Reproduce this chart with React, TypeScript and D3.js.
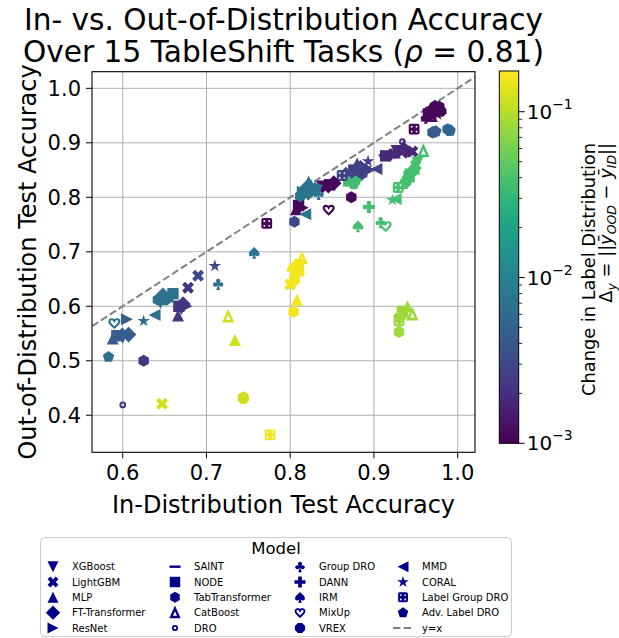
import React from "react";
import * as d3 from "d3";

// ---------- DATA ----------
const MODELS = [
  "XGBoost", "LightGBM", "MLP", "FT-Transformer", "ResNet",
  "SAINT", "NODE", "TabTransformer", "CatBoost", "DRO",
  "Group DRO", "DANN", "IRM", "MixUp", "VREX",
  "MMD", "CORAL", "Label Group DRO", "Adv. Label DRO",
];
const MARKER_TYPES = [
  "v", "X", "^", "D", ">",
  "_", "s", "h", "catboost", "ring",
  "club", "P", "spade", "heart", "8",
  "<", "*", "lgdro", "p",
];

// [model, in-distribution acc, out-of-distribution acc]
type Pt = [string, number, number];

const task01: Pt[] = [
  ["Group DRO", 0.962, 0.946], ["NODE", 0.965, 0.953], ["MLP", 0.963, 0.950],
  ["XGBoost", 0.968, 0.955], ["CatBoost", 0.969, 0.949], ["FT-Transformer", 0.970, 0.961],
  ["DANN", 0.972, 0.956], ["LightGBM", 0.974, 0.958], ["CORAL", 0.976, 0.952],
  ["ResNet", 0.975, 0.964], ["TabTransformer", 0.978, 0.966], ["VREX", 0.980, 0.958],
  ["MMD", 0.966, 0.958], ["IRM", 0.970, 0.964], ["Adv. Label DRO", 0.973, 0.968],
  ["Label Group DRO", 0.948, 0.925],
];
const task02: Pt[] = [
  ["VREX", 0.972, 0.920], ["TabTransformer", 0.970, 0.919], ["Adv. Label DRO", 0.974, 0.921],
];
const task03: Pt[] = [
  ["VREX", 0.990, 0.923], ["TabTransformer", 0.988, 0.925], ["Adv. Label DRO", 0.991, 0.922],
];
const task04: Pt[] = [
  ["SAINT", 0.913, 0.877], ["NODE", 0.914, 0.876], ["Group DRO", 0.920, 0.880],
  ["MLP", 0.925, 0.882], ["XGBoost", 0.927, 0.885], ["ResNet", 0.931, 0.881],
  ["DRO", 0.934, 0.902], ["CatBoost", 0.935, 0.891], ["FT-Transformer", 0.938, 0.885],
  ["TabTransformer", 0.941, 0.884], ["LightGBM", 0.946, 0.884],
];
const task05: Pt[] = [
  ["XGBoost", 0.952, 0.864], ["LightGBM", 0.950, 0.859], ["MLP", 0.948, 0.853],
  ["FT-Transformer", 0.946, 0.848], ["ResNet", 0.944, 0.843], ["NODE", 0.942, 0.838],
  ["TabTransformer", 0.940, 0.833], ["VREX", 0.938, 0.828], ["Adv. Label DRO", 0.936, 0.824],
  ["CatBoost", 0.959, 0.885], ["Label Group DRO", 0.929, 0.818], ["CORAL", 0.922, 0.795],
  ["MMD", 0.926, 0.797], ["DANN", 0.894, 0.782], ["IRM", 0.881, 0.747],
  ["Group DRO", 0.908, 0.754], ["MixUp", 0.914, 0.747],
];
const task06: Pt[] = [
  ["VREX", 0.877, 0.829], ["TabTransformer", 0.872, 0.836], ["Group DRO", 0.881, 0.834],
  ["Adv. Label DRO", 0.876, 0.824], ["NODE", 0.870, 0.830],
];
const task07: Pt[] = [
  ["Label Group DRO", 0.862, 0.840], ["LightGBM", 0.870, 0.845], ["NODE", 0.876, 0.850],
  ["DANN", 0.879, 0.853], ["MLP", 0.880, 0.862], ["FT-Transformer", 0.884, 0.854],
  ["TabTransformer", 0.886, 0.843], ["VREX", 0.888, 0.852], ["XGBoost", 0.890, 0.846],
  ["ResNet", 0.895, 0.850], ["CORAL", 0.893, 0.866], ["MMD", 0.903, 0.852],
];
const task08: Pt[] = [
  ["XGBoost", 0.838, 0.820], ["LightGBM", 0.842, 0.818], ["NODE", 0.847, 0.823],
  ["FT-Transformer", 0.852, 0.826], ["TabTransformer", 0.873, 0.800], ["MixUp", 0.846, 0.777],
  ["MLP", 0.807, 0.778], ["NODE", 0.810, 0.785], ["ResNet", 0.815, 0.781],
  ["Label Group DRO", 0.772, 0.752],
];
const task09: Pt[] = [
  ["TabTransformer", 0.812, 0.802], ["LightGBM", 0.818, 0.805], ["ResNet", 0.815, 0.810],
  ["FT-Transformer", 0.820, 0.818], ["VREX", 0.823, 0.810], ["MLP", 0.825, 0.822],
  ["CatBoost", 0.822, 0.826], ["NODE", 0.828, 0.815], ["CORAL", 0.830, 0.820],
  ["XGBoost", 0.832, 0.812], ["Group DRO", 0.834, 0.806],
  ["MMD", 0.818, 0.769], ["IRM", 0.757, 0.698],
];
const task10: Pt[] = [
  ["TabTransformer", 0.805, 0.755], ["CORAL", 0.710, 0.674], ["LightGBM", 0.690, 0.656],
];
const task11: Pt[] = [
  ["LightGBM", 0.678, 0.634], ["NODE", 0.667, 0.600], ["FT-Transformer", 0.672, 0.604],
  ["XGBoost", 0.670, 0.595], ["ResNet", 0.676, 0.600], ["MLP", 0.666, 0.583],
  ["TabTransformer", 0.625, 0.500], ["DRO", 0.600, 0.419],
];
const task12: Pt[] = [
  ["XGBoost", 0.645, 0.606], ["TabTransformer", 0.642, 0.612], ["FT-Transformer", 0.648, 0.620],
  ["VREX", 0.651, 0.612], ["MLP", 0.655, 0.618], ["NODE", 0.660, 0.623],
  ["CORAL", 0.625, 0.573], ["MMD", 0.638, 0.584], ["MixUp", 0.590, 0.569],
  ["Group DRO", 0.714, 0.641], ["Adv. Label DRO", 0.583, 0.507],
];
const task13: Pt[] = [
  ["MLP", 0.588, 0.541], ["NODE", 0.593, 0.546], ["XGBoost", 0.600, 0.542],
  ["LightGBM", 0.603, 0.550], ["FT-Transformer", 0.607, 0.548], ["ResNet", 0.605, 0.576],
];
const task14: Pt[] = [
  ["LightGBM", 0.800, 0.640], ["TabTransformer", 0.804, 0.590], ["Group DRO", 0.802, 0.668],
  ["VREX", 0.805, 0.648], ["FT-Transformer", 0.806, 0.672], ["ResNet", 0.807, 0.660],
  ["MLP", 0.808, 0.612], ["NODE", 0.810, 0.665], ["XGBoost", 0.812, 0.676],
  ["CatBoost", 0.814, 0.688], ["Label Group DRO", 0.776, 0.364],
];
const task15: Pt[] = [
  ["TabTransformer", 0.930, 0.553], ["Label Group DRO", 0.930, 0.573], ["FT-Transformer", 0.932, 0.582],
  ["NODE", 0.934, 0.590], ["XGBoost", 0.936, 0.588], ["ResNet", 0.938, 0.592],
  ["MLP", 0.940, 0.600], ["CatBoost", 0.946, 0.585],
];
const task16: Pt[] = [
  ["LightGBM", 0.647, 0.421], ["CatBoost", 0.726, 0.581], ["MLP", 0.734, 0.538],
  ["TabTransformer", 0.744, 0.433], ["VREX", 0.744, 0.431],
];

const TASK_POINTS = [task01, task02, task03, task04, task05, task06, task07, task08,
  task09, task10, task11, task12, task13, task14, task15, task16];
const TASK_DELTAS = [0.0011, 0.0043, 0.0055, 0.0018, 0.038, 0.036, 0.0027, 0.0011,
  0.0072, 0.003, 0.0022, 0.0068, 0.0045, 0.16, 0.083, 0.12];

const X_TICKS = [0.6, 0.7, 0.8, 0.9, 1.0];
const Y_TICKS = [0.4, 0.5, 0.6, 0.7, 0.8, 0.9, 1.0];
const CB_MAJOR = [1e-3, 1e-2, 1e-1];
const CB_EXP = ["−3", "−2", "−1"];

// ---------- LAYOUT ----------
const FONT = "DejaVu Sans, Verdana, sans-serif";
const PL = 92, PR = 475, PT = 71.7, PB = 452.3;
const CBX0 = 499.3, CBX1 = 518.7, CBT = 71, CBB = 443.3;

const xS = d3.scaleLinear().domain([0.5633, 1.0207]).range([PL, PR]);
const yS = d3.scaleLinear().domain([0.332, 1.0305]).range([PB, PT]);
const cS = d3.scaleLog().domain([1e-3, 0.176]).range([CBB, CBT]);
const colorOf = d3.scaleSequentialLog(d3.interpolateViridis).domain([1e-3, 0.176]);

function poly(n: number, r: number, startDeg: number) {
  const pts = d3.range(n).map((i) => {
    const a = ((startDeg + (i * 360) / n) * Math.PI) / 180;
    return [r * Math.cos(a), r * Math.sin(a)];
  });
  return "M" + pts.map((p) => p[0].toFixed(2) + "," + p[1].toFixed(2)).join("L") + "Z";
}
function starPath(r: number) {
  const pts = d3.range(10).map((i) => {
    const rr = i % 2 === 0 ? r : r * 0.382;
    const a = ((-90 + i * 36) * Math.PI) / 180;
    return [rr * Math.cos(a), rr * Math.sin(a)];
  });
  return "M" + pts.map((p) => p[0].toFixed(2) + "," + p[1].toFixed(2)).join("L") + "Z";
}
function plusPath(r: number, rotDeg: number) {
  const base = [[-1, -3], [1, -3], [1, -1], [3, -1], [3, 1], [1, 1], [1, 3], [-1, 3], [-1, 1], [-3, 1], [-3, -1], [-1, -1]];
  const a = (rotDeg * Math.PI) / 180;
  const pts = base.map(([x, y]) => {
    const sx = (x * r) / 3, sy = (y * r) / 3;
    return [sx * Math.cos(a) - sy * Math.sin(a), sx * Math.sin(a) + sy * Math.cos(a)];
  });
  return "M" + pts.map((p) => p[0].toFixed(2) + "," + p[1].toFixed(2)).join("L") + "Z";
}

function Marker({ type, x, y, r, color }: { type: string; x: number; y: number; r: number; color: string }) {
  const t = `translate(${x},${y})`;
  switch (type) {
    case "v": return <path transform={t} d={`M${-r},${-r}L${r},${-r}L0,${r}Z`} fill={color} />;
    case "^": return <path transform={t} d={`M0,${-r}L${r},${r}L${-r},${r}Z`} fill={color} />;
    case ">": return <path transform={t} d={`M${-r},${-r}L${r},0L${-r},${r}Z`} fill={color} />;
    case "<": return <path transform={t} d={`M${r},${-r}L${-r},0L${r},${r}Z`} fill={color} />;
    case "D": { const q = r * 1.3; return <path transform={t} d={`M0,${-q}L${q},0L0,${q}L${-q},0Z`} fill={color} />; }
    case "s": return <rect transform={t} x={-r * 0.95} y={-r * 0.95} width={r * 1.9} height={r * 1.9} fill={color} />;
    case "X": return <path transform={t} d={plusPath(r * 1.05, 45)} fill={color} />;
    case "P": return <path transform={t} d={plusPath(r, 0)} fill={color} />;
    case "h": return <path transform={t} d={poly(6, r, -90)} fill={color} />;
    case "8": return <path transform={t} d={poly(8, r, 22.5)} fill={color} />;
    case "p": return <path transform={t} d={poly(5, r, -90)} fill={color} />;
    case "*": return <path transform={t} d={starPath(r * 1.1)} fill={color} />;
    case "_": return <rect transform={t} x={-r} y={-r * 0.22} width={2 * r} height={r * 0.44} fill={color} />;
    case "ring": return <circle transform={t} r={r * 0.4} fill="none" stroke={color} strokeWidth={r * 0.32} />;
    case "catboost": {
      const q = r * 0.78;
      return <path transform={t} d={`M0,${-q}L${q * 0.9},${q}L${-q * 0.9},${q}Z`} fill="none" stroke={color} strokeWidth={r * 0.42} strokeLinejoin="miter" />;
    }
    case "heart": {
      const q = r * 0.82;
      const d = `M0,${0.9 * q}C${-0.45 * q},${0.5 * q} ${-q},${0.1 * q} ${-q},${-0.35 * q}C${-q},${-0.85 * q} ${-0.3 * q},${-q} 0,${-0.45 * q}C${0.3 * q},${-q} ${q},${-0.85 * q} ${q},${-0.35 * q}C${q},${0.1 * q} ${0.45 * q},${0.5 * q} 0,${0.9 * q}Z`;
      return <path transform={t} d={d} fill="none" stroke={color} strokeWidth={r * 0.36} />;
    }
    case "spade": {
      const q = r;
      const d = `M0,${-q}C${0.3 * q},${-0.55 * q} ${0.9 * q},${-0.25 * q} ${0.9 * q},${0.22 * q}C${0.9 * q},${0.6 * q} ${0.4 * q},${0.68 * q} ${0.12 * q},${0.4 * q}L${0.32 * q},${q}L${-0.32 * q},${q}L${-0.12 * q},${0.4 * q}C${-0.4 * q},${0.68 * q} ${-0.9 * q},${0.6 * q} ${-0.9 * q},${0.22 * q}C${-0.9 * q},${-0.25 * q} ${-0.3 * q},${-0.55 * q} 0,${-q}Z`;
      return <path transform={t} d={d} fill={color} />;
    }
    case "club": {
      const c = r * 0.38;
      return (
        <g transform={t} fill={color}>
          <circle cx={0} cy={-r * 0.5} r={c} />
          <circle cx={-r * 0.48} cy={r * 0.1} r={c} />
          <circle cx={r * 0.48} cy={r * 0.1} r={c} />
          <circle cx={0} cy={0} r={c * 0.7} />
          <path d={`M0,0L${-r * 0.32},${r}L${r * 0.32},${r}Z`} />
        </g>
      );
    }
    case "lgdro": {
      const s = r * 0.9;
      const o = r * 0.4;
      return (
        <g transform={t}>
          <rect x={-s} y={-s} width={2 * s} height={2 * s} rx={r * 0.3} fill={color} />
          {[[-o, -o], [o, -o], [-o, o], [o, o]].map(([dx, dy], i) => (
            <circle key={i} cx={dx} cy={dy} r={r * 0.16} fill="white" />
          ))}
        </g>
      );
    }
    default: return null;
  }
}

const markerOf = (model: string) => MARKER_TYPES[MODELS.indexOf(model)];

export default function App() {
  const gradStops = d3.range(0, 1.0001, 0.05);
  const cbMinor: number[] = [];
  [1e-3, 1e-2, 1e-1].forEach((dec) => {
    for (let k = 2; k <= 9; k++) {
      const v = dec * k;
      if (v < 0.176) cbMinor.push(v);
    }
  });

  const legendCols = [53, 175, 300, 403];
  const legendRows = [566.7, 582, 597.3, 612.7, 628];

  return (
    <svg width={619} height={638} style={{ position: "absolute", left: 0, top: 0, background: "white" }}
      fontFamily={FONT}>
      <defs>
        <clipPath id="plotclip">
          <rect x={PL} y={PT} width={PR - PL} height={PB - PT} />
        </clipPath>
        <linearGradient id="viridisGrad" x1="0" y1="1" x2="0" y2="0">
          {gradStops.map((s, i) => (
            <stop key={i} offset={s} stopColor={d3.interpolateViridis(s)} />
          ))}
        </linearGradient>
      </defs>
      <rect x={0} y={0} width={619} height={638} fill="white" />

      {/* Title */}
      <text x={283.5} y={30} textAnchor="middle" fontSize={29.6} fill="black">In- vs. Out-of-Distribution Accuracy</text>
      <text x={283.5} y={62} textAnchor="middle" fontSize={29.6} fill="black">
        Over 15 TableShift Tasks (<tspan fontStyle="italic">ρ</tspan> = 0.81)
      </text>

      {/* Grid */}
      <g stroke="#b0b0b0" strokeWidth={1}>
        {X_TICKS.map((v) => <line key={"gx" + v} x1={xS(v)} x2={xS(v)} y1={PT} y2={PB} />)}
        {Y_TICKS.map((v) => <line key={"gy" + v} x1={PL} x2={PR} y1={yS(v)} y2={yS(v)} />)}
      </g>

      {/* y = x and points */}
      <g clipPath="url(#plotclip)">
        <line x1={xS(0.5633)} y1={yS(0.5633)} x2={xS(1.0207)} y2={yS(1.0207)}
          stroke="#808080" strokeWidth={2} strokeDasharray="7.4 3.2" />
        {TASK_POINTS.map((pts, ti) =>
          pts.map(([m, xi, yo], pi) => (
            <Marker key={ti + "-" + pi} type={markerOf(m)} x={xS(xi)} y={yS(yo)} r={6}
              color={colorOf(TASK_DELTAS[ti])} />
          ))
        )}
      </g>

      {/* Axes frame */}
      <rect x={PL} y={PT} width={PR - PL} height={PB - PT} fill="none" stroke="black" strokeWidth={1.1} />

      {/* X ticks */}
      {X_TICKS.map((v) => (
        <g key={"xt" + v}>
          <line x1={xS(v)} x2={xS(v)} y1={PB} y2={PB + 6} stroke="black" strokeWidth={1} />
          <text x={xS(v)} y={PB + 28} textAnchor="middle" fontSize={21}>{v.toFixed(1)}</text>
        </g>
      ))}
      {/* Y ticks */}
      {Y_TICKS.map((v) => (
        <g key={"yt" + v}>
          <line x1={PL - 6} x2={PL} y1={yS(v)} y2={yS(v)} stroke="black" strokeWidth={1} />
          <text x={PL - 11} y={yS(v)} dy="0.36em" textAnchor="end" fontSize={21}>{v.toFixed(1)}</text>
        </g>
      ))}

      {/* Axis labels */}
      <text x={283.5} y={513} textAnchor="middle" fontSize={24}>In-Distribution Test Accuracy</text>
      <text transform={`translate(36,262) rotate(-90)`} textAnchor="middle" fontSize={24}>
        Out-of-Distribution Test Accuracy
      </text>

      {/* Colorbar */}
      <rect x={CBX0} y={CBT} width={CBX1 - CBX0} height={CBB - CBT} fill="url(#viridisGrad)" />
      <rect x={CBX0} y={CBT} width={CBX1 - CBX0} height={CBB - CBT} fill="none" stroke="black" strokeWidth={1} />
      {cbMinor.map((v, i) => (
        <line key={"cm" + i} x1={CBX1} x2={CBX1 + 3.5} y1={cS(v)} y2={cS(v)} stroke="black" strokeWidth={0.8} />
      ))}
      {CB_MAJOR.map((v, i) => (
        <g key={"cb" + i}>
          <line x1={CBX1} x2={CBX1 + 6} y1={cS(v)} y2={cS(v)} stroke="black" strokeWidth={1} />
          <text x={CBX1 + 8} y={cS(v) + 7} fontSize={20}>
            10<tspan dy={-10} fontSize={14}>{CB_EXP[i]}</tspan>
          </text>
        </g>
      ))}
      <text transform={`translate(595,143) rotate(-90)`} textAnchor="end" fontSize={17.8}>
        Change in Label Distribution
      </text>
      <text transform={`translate(612,143) rotate(-90)`} textAnchor="end" fontSize={17.8}>
        Δ<tspan fontStyle="italic" fontSize={12.5} dy={3.5}>y</tspan>
        <tspan dy={-3.5}> = ||</tspan>
        <tspan fontStyle="italic">ȳ</tspan>
        <tspan fontStyle="italic" fontSize={12.5} dy={3.5}>OOD</tspan>
        <tspan dy={-3.5}> − </tspan>
        <tspan fontStyle="italic">ȳ</tspan>
        <tspan fontStyle="italic" fontSize={12.5} dy={3.5}>ID</tspan>
        <tspan dy={-3.5}>||</tspan>
      </text>

      {/* Legend */}
      <rect x={40.5} y={537.5} width={471} height={99} rx={4} fill="white" stroke="#cccccc" strokeWidth={1} />
      <text x={276} y={554} textAnchor="middle" fontSize={16.5}>Model</text>
      {MODELS.map((m, i) => {
        const col = Math.floor(i / 5), row = i % 5;
        return (
          <g key={"lg" + m}>
            <Marker type={MARKER_TYPES[i]} x={legendCols[col]} y={legendRows[row]} r={5.5} color="#00008b" />
            <text x={legendCols[col] + 19} y={legendRows[row]} dy="0.36em" fontSize={10}>{m}</text>
          </g>
        );
      })}
      <line x1={legendCols[3] - 10} x2={legendCols[3] + 10} y1={legendRows[4]} y2={legendRows[4]}
        stroke="#808080" strokeWidth={2} strokeDasharray="7.4 3.2" />
      <text x={legendCols[3] + 19} y={legendRows[4]} dy="0.36em" fontSize={10}>y=x</text>
    </svg>
  );
}
